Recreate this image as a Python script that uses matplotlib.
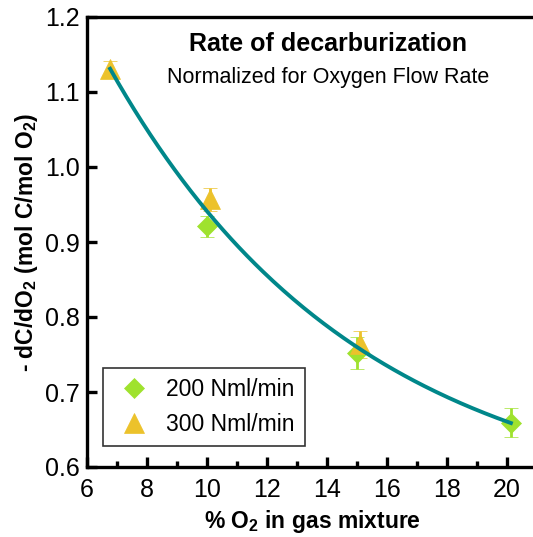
import numpy as np
import matplotlib
matplotlib.use("Agg")
import matplotlib.pyplot as plt
from matplotlib.lines import Line2D

plt.rcParams['font.family'] = ['Liberation Sans', 'DejaVu Sans']
plt.rcParams['mathtext.fontset'] = 'custom'
plt.rcParams['mathtext.rm'] = 'Liberation Sans'
plt.rcParams['mathtext.bf'] = 'Liberation Sans:bold'

# Data
x200 = [10.0, 15.0, 20.13]
y200 = [0.921, 0.752, 0.659]
e200 = [0.014, 0.021, 0.019]

x300 = [6.77, 10.1, 15.1]
y300 = [1.131, 0.957, 0.764]
e300 = [0.011, 0.015, 0.018]

labels = ['200 Nml/min', '300 Nml/min']
xticks = [6, 8, 10, 12, 14, 16, 18, 20]
yticks = [0.6, 0.7, 0.8, 0.9, 1.0, 1.1, 1.2]

green = '#9fe22e'
yellow = '#ecc22b'
teal = '#00878a'

# exponential-decay fit (y = a*exp(-k x) + c) over all points
xa = np.array(x200 + x300)
ya = np.array(y200 + y300)
best = None
for k in np.linspace(0.01, 1.0, 2000):
    A = np.vstack([np.exp(-k * xa), np.ones_like(xa)]).T
    coef, res, _, _ = np.linalg.lstsq(A, ya, rcond=None)
    r = np.sum((A @ coef - ya) ** 2)
    if best is None or r < best[0]:
        best = (r, k, coef)
_, kf, (af, cf) = best
xf = np.linspace(min(xa), max(xa), 200)
yf = af * np.exp(-kf * xf) + cf

fig = plt.figure(figsize=(5.33, 5.37), dpi=100)
ax = fig.add_axes([87/533, (537-467)/537, 450/533, 450/537])

ax.plot(xf, yf, color=teal, lw=2.8, zorder=3)
ax.errorbar(x200, y200, yerr=e200, fmt='D', color=green, ms=10, mec=green, mew=0.5,
            ecolor=green, elinewidth=2, capsize=5, capthick=2, zorder=2)
ax.errorbar(x300, y300, yerr=e300, fmt='^', color=yellow, ms=15, mec=yellow, mew=0.5,
            ecolor=yellow, elinewidth=2, capsize=5, capthick=2, zorder=2)

ax.set_xlim(6, 21)
ax.set_ylim(0.6, 1.2)
ax.set_xticks(xticks)
ax.set_xticks(np.arange(7, 21, 2), minor=True)
ax.set_yticks(yticks)
ax.set_yticklabels([f'{v:.1f}' for v in yticks])
for s in ax.spines.values():
    s.set_linewidth(2.4)
ax.tick_params(axis='both', which='major', direction='in', length=7, width=2.4,
               labelsize=18)
ax.tick_params(axis='x', which='major', pad=8)
ax.tick_params(axis='y', which='major', pad=5)
ax.tick_params(axis='x', which='minor', direction='in', length=4, width=2.4)

ax.set_xlabel(r'% O$_\mathbf{2}$ in gas mixture', fontsize=16.5, fontweight='bold', labelpad=4)
ax.set_ylabel(r'- dC/dO$_\mathbf{2}$ (mol C/mol O$_\mathbf{2}$)', fontsize=16.5,
              fontweight='bold', labelpad=4)

ax.text(0.535, 0.94, 'Rate of decarburization', transform=ax.transAxes,
        ha='center', va='center', fontsize=18, fontweight='bold')
ax.text(0.535, 0.865, 'Normalized for Oxygen Flow Rate', transform=ax.transAxes,
        ha='center', va='center', fontsize=15.5)

handles = [Line2D([], [], ls='none', marker='D', ms=10, color=green, mec=green, mew=0.5),
           Line2D([], [], ls='none', marker='^', ms=15, color=yellow, mec=yellow, mew=0.5)]
leg = ax.legend(handles, labels, loc='lower left', bbox_to_anchor=(0.036, 0.047),
                fontsize=16.5, frameon=True, fancybox=False, edgecolor='black',
                handletextpad=0.5, borderpad=0.45, labelspacing=0.5, handlelength=1.8,
                borderaxespad=0)
leg.get_frame().set_linewidth(1.2)

fig.savefig('out.png', dpi=100)
